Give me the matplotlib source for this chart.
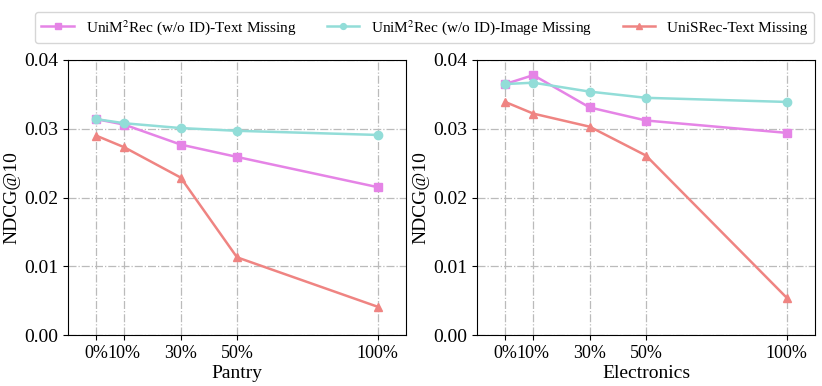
import matplotlib
matplotlib.use("Agg")
import matplotlib.pyplot as plt

plt.rcParams['font.family'] = ['Liberation Serif', 'DejaVu Serif']
plt.rcParams['mathtext.fontset'] = 'stix'

x_vals = [0, 10, 30, 50, 100]
x_labels = ['0%', '10%', '30%', '50%', '100%']

pantry_text = [0.0314, 0.0306, 0.0277, 0.0259, 0.0215]
pantry_image = [0.0314, 0.0308, 0.0301, 0.0297, 0.0291]
pantry_unisrec = [0.0290, 0.0273, 0.0229, 0.0113, 0.0041]

elec_text = [0.0365, 0.0378, 0.0331, 0.0312, 0.0294]
elec_image = [0.0365, 0.0367, 0.0354, 0.0345, 0.0339]
elec_unisrec = [0.0339, 0.0322, 0.0303, 0.0261, 0.0054]

labels = ['UniM$^2$Rec (w/o ID)-Text Missing',
          'UniM$^2$Rec (w/o ID)-Image Missing',
          'UniSRec-Text Missing']
colors = ['#E584E6', '#92DDD8', '#EF8482']
markers = ['s', 'o', '^']

fig = plt.figure(figsize=(8.22, 3.86), dpi=100)
ax1 = fig.add_axes([68/822, 1-335/386, 338/822, 275/386])
ax2 = fig.add_axes([477/822, 1-335/386, 338/822, 275/386])

for ax, series, name in [(ax1, [pantry_text, pantry_image, pantry_unisrec], 'Pantry'),
                         (ax2, [elec_text, elec_image, elec_unisrec], 'Electronics')]:
    handles = []
    for s, c, m, l in zip(series, colors, markers, labels):
        h, = ax.plot(x_vals, s, color=c, marker=m, markersize=6, linewidth=1.8, label=l)
        handles.append(h)
    ax.set_xlim(-10, 110)
    ax.set_ylim(0, 0.04)
    ax.set_xticks(x_vals)
    ax.set_xticklabels(x_labels)
    ax.set_yticks([0, 0.01, 0.02, 0.03, 0.04])
    ax.set_yticklabels(['0.00', '0.01', '0.02', '0.03', '0.04'])
    ax.tick_params(axis='y', labelsize=14)
    ax.tick_params(axis='x', labelsize=13)
    ax.set_xlabel(name, fontsize=14, labelpad=2)
    ax.set_ylabel('NDCG@10', fontsize=14, labelpad=3)
    ax.grid(True, linestyle='-.', color='#bbbbbb', linewidth=0.9)
    ax.set_axisbelow(True)

fig.legend(handles, labels, loc='upper center', ncol=3,
           bbox_to_anchor=(424.5/822, 1-4/386),
           fontsize=11, frameon=True, handlelength=2.1, columnspacing=2.0,
           markerscale=0.7, borderpad=0.4)

fig.savefig('out.png', dpi=100)
